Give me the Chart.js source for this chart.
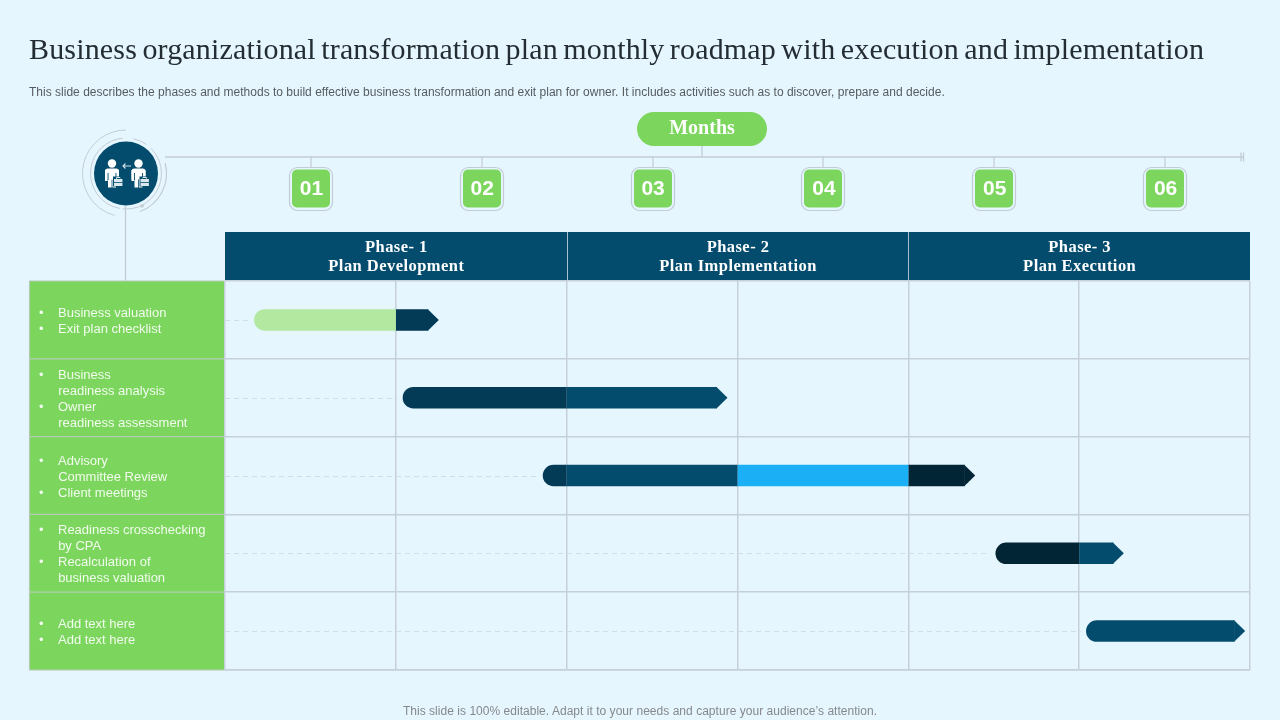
<!DOCTYPE html>
<html><head><meta charset="utf-8">
<script src="https://cdn.jsdelivr.net/npm/chart.js@4"></script>
<style>
html,body{margin:0;padding:0;background:#e6f6fe;width:1280px;height:720px;overflow:hidden}
#wrap{position:relative;width:1280px;height:720px}
canvas{position:absolute;left:0;top:0}
.t{position:absolute;white-space:nowrap;margin:0}
#title{left:29px;top:31px;font:30px/36px "Liberation Serif",serif;color:#232d33;letter-spacing:0.17px;word-spacing:-2.3px}
#sub{left:29px;top:85px;font:12px/15px "Liberation Sans",sans-serif;color:#555c60;letter-spacing:0.012px}
#foot{left:0;width:1280px;text-align:center;top:704px;font:12px/15px "Liberation Sans",sans-serif;color:#85898c;letter-spacing:0.03px}
</style></head><body>
<div id="wrap">
<canvas id="c" width="1280" height="720"></canvas>
<h1 class="t" id="title" style="font-weight:normal">Business organizational transformation plan monthly roadmap with execution and implementation</h1>
<p class="t" id="sub">This slide describes the phases and methods to build effective business transformation and exit plan for owner. It includes activities such as to discover, prepare and decide.</p>
<p class="t" id="foot">This slide is 100% editable. Adapt it to your needs and capture your audience’s attention.</p>
</div>
<script>
const months = ["01","02","03","04","05","06"];
const phaseNames = ["Phase- 1","Phase- 2","Phase- 3"];
const phasePlans = ["Plan Development","Plan Implementation","Plan Execution"];
const rowLabels = [
  ["•    Business valuation","•    Exit plan checklist"],
  ["•    Business","     \u200Areadiness analysis","•    Owner","     \u200Areadiness assessment"],
  ["•    Advisory","     \u200ACommittee Review","•    Client meetings"],
  ["•    Readiness crosschecking","     \u200Aby CPA","•    Recalculation of","     \u200Abusiness valuation"],
  ["•    Add text here","•    Add text here"]
];
const lightGreenSpans = [[0.17,1],null,null,null,null];
const navySpans = [[1,1.19],[1.04,2],[1.86,2],null,null];
const tealSpans = [null,[2,2.88],[2,3],[5,5.2],[5.04,5.91]];
const skySpans = [null,null,[3,4],null,null];
const inkSpans = [null,null,[4,4.33],[4.51,5],null];

const GREEN="#7cd65d", HEAD="#044c6d", GRID="#c6d0da", LINE="#c3ccd5";
const series=[[lightGreenSpans,"#b2e89f"],[navySpans,"#033a56"],[tealSpans,"#044c6d"],[skySpans,"#1baff5"],[inkSpans,"#022536"]];
const BAR=21.5, TIP=10.5;

function rr(c,x,y,w,h,r){c.beginPath();c.roundRect(x,y,w,h,r);}
function arc(c,cx,cy,r,a,b,col,lw){c.beginPath();c.arc(cx,cy,r,a*Math.PI/180,b*Math.PI/180);c.strokeStyle=col;c.lineWidth=lw||1;c.stroke();}
function person(c,x){
  c.fillStyle="#fff";
  c.beginPath();c.arc(x,163.5,4.2,0,7);c.fill();
  rr(c,x-7,168.5,14,11,[3,3,0,0]);c.fill();
  c.fillRect(x-7,170,2.6,11);c.fillRect(x+4.4,170,2.6,9);
  c.fillRect(x-4,178,3.6,9.5);c.fillRect(x+0.4,178,3.6,9.5);
  c.fillStyle=HEAD;c.fillRect(x-4.4,173,.9,7);c.fillRect(x+3.5,173,.9,5);
  c.fillStyle=HEAD;c.fillRect(x+1,176.5,10,10);
  c.fillStyle="#dbe9ef";c.fillRect(x+2,179,8.4,7);
  c.strokeStyle="#dbe9ef";c.lineWidth=1;c.strokeRect(x+4.7,177.5,3,2);
  c.fillStyle=HEAD;c.fillRect(x+2,182,8.4,.8);
}
const decor={id:"decor",
 beforeDraw(ch){
  const c=ch.ctx,x=ch.scales.x,y=ch.scales.y,a=ch.chartArea,m=ch.scales.xMonths;
  c.save();
  // green label panel
  c.fillStyle=GREEN;c.fillRect(29,a.top,a.left-29,a.bottom-a.top);
  c.strokeStyle="#b4cbb6";c.lineWidth=1.2;
  rowLabels.forEach((_,i)=>{const v=i<4?(y.getPixelForValue(i)+y.getPixelForValue(i+1))/2:a.bottom;
    c.beginPath();c.moveTo(29,v);c.lineTo(a.left,v);c.stroke();});
  c.beginPath();c.moveTo(29,a.top);c.lineTo(a.left,a.top);c.moveTo(29.5,a.top);c.lineTo(29.5,a.bottom);c.stroke();
  // timeline
  c.strokeStyle=LINE;c.lineWidth=1.3;
  c.beginPath();c.moveTo(165,157);c.lineTo(1243,157);
  c.moveTo(1241,152.5);c.lineTo(1241,161.5);c.moveTo(1243.5,152.5);c.lineTo(1243.5,161.5);
  c.moveTo(702,146);c.lineTo(702,157);
  c.moveTo(125.5,206);c.lineTo(125.5,a.top);c.stroke();
  // Months pill
  c.fillStyle=GREEN;rr(c,637,112,130,34,17);c.fill();
  c.fillStyle="#fff";c.font='bold 20px "Liberation Serif",serif';c.textAlign="center";c.textBaseline="middle";
  c.fillText("Months",702,129);
  // month badges
  months.forEach((_,i)=>{const p=Math.ceil(m.getPixelForValue(i));
    c.strokeStyle=LINE;c.lineWidth=1.2;
    c.beginPath();c.moveTo(p,157);c.lineTo(p,167);c.stroke();
    rr(c,p-21.5,167.5,43,43,8);c.stroke();
    c.fillStyle=GREEN;rr(c,p-19,169.5,38,38,5);c.fill();});
  // phase header
  c.fillStyle=HEAD;c.fillRect(a.left,232,a.right-a.left,a.top-232);
  c.strokeStyle="#a9c1ce";c.lineWidth=1;
  [2,4].forEach(v=>{const p=Math.round(x.getPixelForValue(v))+.5;c.beginPath();c.moveTo(p,232);c.lineTo(p,a.top);c.stroke();});
  c.fillStyle="#fff";c.font='bold 16.5px "Liberation Serif",serif';c.letterSpacing="0.45px";
  phaseNames.forEach((n,i)=>{const p=x.getPixelForValue(2*i+1)+.5;
    c.fillText(n,p,248);c.fillText(phasePlans[i],p,267);});
  c.letterSpacing="0px";
  // badge circle
  c.fillStyle=HEAD;c.beginPath();c.arc(126,173.5,32,0,7);c.fill();
  arc(c,126,173.5,35.5,100,265,LINE,1);
  arc(c,126,173.5,35.5,-78,-55,LINE,1);
  arc(c,126,173.5,35.5,-45,95,LINE,1);
  arc(c,126,173.5,40.5,-15,70,LINE,1.2);
  arc(c,126,173.5,43.5,105,270,LINE,1);
  c.fillStyle=LINE;c.beginPath();c.arc(142,206,1.8,0,7);c.fill();
  person(c,112);person(c,138.5);
  c.strokeStyle="#cfe0e8";c.lineWidth=1.1;c.beginPath();c.moveTo(131,166);c.lineTo(123,166);c.moveTo(125.5,163.5);c.lineTo(123,166);c.lineTo(125.5,168.5);c.stroke();
  c.restore();
 },
 beforeDatasetsDraw(ch){
  const c=ch.ctx,x=ch.scales.x,y=ch.scales.y,a=ch.chartArea;
  c.save();c.strokeStyle="#d3dde3";c.lineWidth=1;c.setLineDash([5,4]);
  rowLabels.forEach((_,i)=>{let s=Infinity;series.forEach(([d])=>{if(d[i])s=Math.min(s,d[i][0]);});
    const p=Math.round(y.getPixelForValue(i))+.5;
    c.beginPath();c.moveTo(a.left,p);c.lineTo(x.getPixelForValue(s)-5,p);c.stroke();});
  c.restore();
 },
 afterDatasetsDraw(ch){
  const c=ch.ctx,x=ch.scales.x,y=ch.scales.y;
  c.save();
  rowLabels.forEach((_,i)=>{let e=-1,col=null;series.forEach(([d,k])=>{if(d[i]&&d[i][1]>e){e=d[i][1];col=k;}});
    const p=x.getPixelForValue(e),q=y.getPixelForValue(i);
    c.fillStyle=col;c.beginPath();c.moveTo(p-.5,q-BAR/2);c.lineTo(p+TIP,q);c.lineTo(p-.5,q+BAR/2);c.closePath();c.fill();});
  c.restore();
 }};
new Chart(document.getElementById("c"),{
 type:"bar",
 plugins:[decor],
 data:{labels:rowLabels,datasets:series.map(([d,k])=>({
   data:d,backgroundColor:k,grouped:false,barThickness:BAR,borderSkipped:false,inflateAmount:0,
   borderRadius(ctx){const i=ctx.dataIndex;let s=Infinity;series.forEach(([z])=>{if(z[i])s=Math.min(s,z[i][0]);});
     const own=d[i];return own&&own[0]===s?{topLeft:BAR/2,bottomLeft:BAR/2,topRight:0,bottomRight:0}:0;}
 }))},
 options:{indexAxis:"y",responsive:false,animation:false,events:[],
  layout:{padding:{left:39,right:30,bottom:50,top:0}},
  plugins:{legend:{display:false},tooltip:{enabled:false}},
  scales:{
   x:{type:"linear",min:0,max:6,position:"bottom",
      ticks:{display:false,stepSize:1},grid:{color:GRID,lineWidth:1.5,drawTicks:false},border:{color:GRID,width:1.5}},
   xMonths:{type:"category",labels:months,position:"top",offset:true,
      afterFit(s){s.height=281;},
      grid:{display:false,drawTicks:false},border:{display:false},
      ticks:{padding:79,labelOffset:1,color:"#fff",autoSkip:false,maxRotation:0,font:{family:"Liberation Sans",size:21,weight:"bold"}}},
   y:{type:"category",offset:true,
      afterFit(s){s.width=186;},
      grid:{color:GRID,lineWidth:1.5,offset:true,drawTicks:false},border:{display:false},
      ticks:{crossAlign:"far",padding:0,labelOffset:1.5,color:"#f1fbee",autoSkip:false,font:{family:"Liberation Sans",size:13,lineHeight:"16px"}}}
  }}
});
</script>
</body></html>
